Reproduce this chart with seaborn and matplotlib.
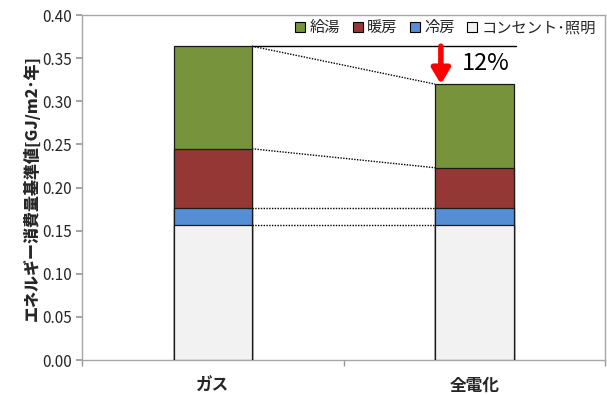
import matplotlib
matplotlib.use("Agg")
import matplotlib.pyplot as plt
import seaborn as sns
import pandas as pd
import numpy as np
from matplotlib.patches import Patch

sns.set_theme(style="white")
plt.rcParams['font.family'] = ['Noto Sans CJK JP', 'DejaVu Sans']

# Data
systems = ["ガス", "全電化"]
components = ["コンセント･照明", "冷房", "暖房", "給湯"]
outlet_light = [0.157, 0.157]
cooling = [0.019, 0.019]
heating = [0.069, 0.047]
hot_water = [0.119, 0.097]
reduction_label = "12%"

colors = {"給湯": "#77933C", "暖房": "#953735", "冷房": "#558ED5", "コンセント･照明": "#F2F2F2"}

layers = [outlet_light, cooling, heating, hot_water]
cum = np.cumsum(np.array(layers), axis=0)  # rows: cumulative top per component

fig = plt.figure(figsize=(6.07, 3.95), dpi=100)
ax = fig.add_axes([0.135, 0.0886, 0.862, 0.873])

width = 0.30
# Stacked bars: draw cumulative totals from the top layer down
for i in range(len(components) - 1, -1, -1):
    df = pd.DataFrame({"system": systems, "value": cum[i]})
    sns.barplot(data=df, x="system", y="value", color=colors[components[i]],
                width=width, edgecolor="#1a1a1a", linewidth=0.9,
                saturation=1, ax=ax, zorder=3)

# Dotted connectors between matching layer tops
for i in range(len(components)):
    ax.plot([0 + width / 2, 1 - width / 2], [cum[i][0], cum[i][1]],
            color="black", linestyle=(0, (1, 1)), linewidth=1.0, zorder=2)

# Reference line at the gas total and the reduction arrow
gas_total = cum[-1][0]
elec_total = cum[-1][1]
ax.plot([0 + width / 2, 1 + width / 2 + 0.01], [gas_total, gas_total],
        color="black", linewidth=1.0, zorder=2)
ax.annotate("", xy=(1 - width / 2 + 0.022, elec_total),
            xytext=(1 - width / 2 + 0.022, gas_total),
            arrowprops=dict(arrowstyle="-|>,head_width=0.45,head_length=0.75",
                            color="#FF0000", lw=4, shrinkA=0, shrinkB=0),
            zorder=5)
ax.text(1.045, (gas_total + elec_total) / 2 + 0.0015, reduction_label,
        fontsize=17, ha="center", va="center", color="black")

ax.set_xlim(-0.5, 1.5)
ax.set_ylim(0, 0.40)
ax.set_yticks(np.arange(0, 0.401, 0.05))
ax.set_yticklabels([f"{v:.2f}" for v in np.arange(0, 0.401, 0.05)], fontsize=11)
ax.set_xticks([0, 1])
ax.set_xticklabels(systems, fontsize=12, fontweight="bold")
ax.set_xticks([-0.5, 0.5, 1.5], minor=True)
ax.tick_params(axis="x", which="major", length=0, pad=12)
ax.tick_params(axis="x", which="minor", length=4, color="#999999", direction="out", bottom=True)
ax.tick_params(axis="y", length=4, color="#999999", direction="out", left=True, pad=3)
ax.set_xlabel("")
ax.set_ylabel("エネルギー消費量基準値[GJ/m2･年]", fontsize=11.5, fontweight="heavy", labelpad=2)

for side in ["left", "bottom", "top", "right"]:
    ax.spines[side].set_visible(True)
    ax.spines[side].set_color("#a6a6a6")
    ax.spines[side].set_linewidth(1.0)

legend_order = ["給湯", "暖房", "冷房", "コンセント･照明"]
handles = [Patch(facecolor=colors[c], edgecolor="black", linewidth=0.8)
           for c in legend_order]
ax.legend(handles, legend_order, ncol=4,
          loc="upper right", bbox_to_anchor=(1.0, 1.015), frameon=False, fontsize=11,
          handlelength=0.65, handleheight=0.65, handletextpad=0.3, columnspacing=0.8,
          borderaxespad=0.2)

fig.savefig("out.png", dpi=100)
